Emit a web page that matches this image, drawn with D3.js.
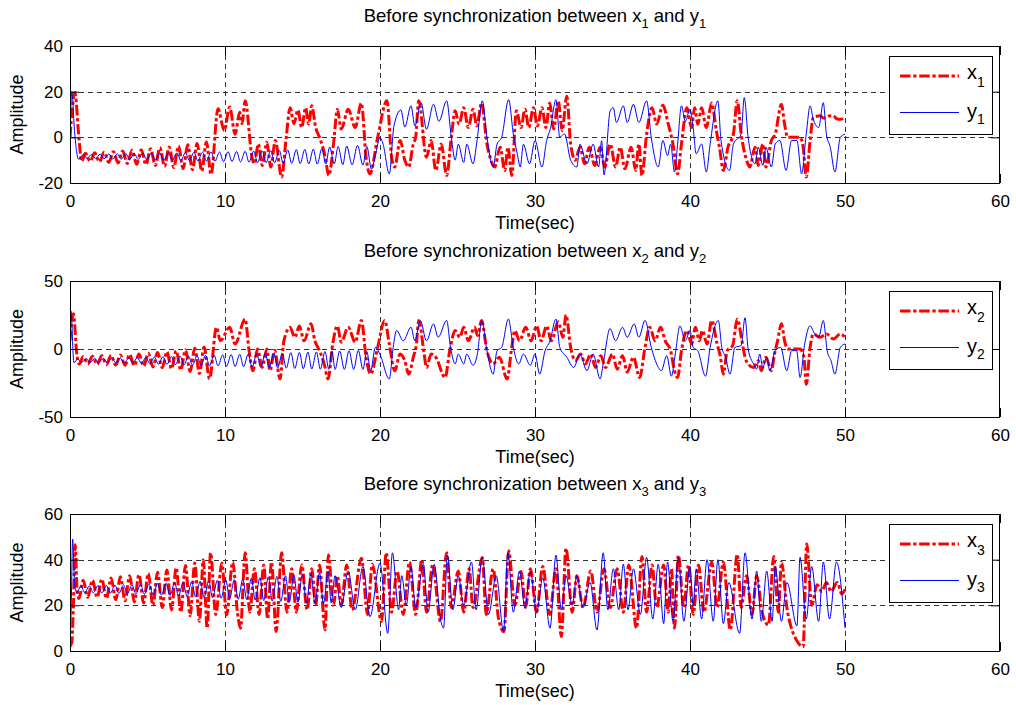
<!DOCTYPE html>
<html>
<head>
<meta charset="utf-8">
<script src="https://cdn.jsdelivr.net/npm/d3@7"></script>
<style>
  html, body { margin: 0; padding: 0; background: #fff; }
  svg { display: block; }
  text { font-family: "Liberation Sans", Arial, Helvetica, sans-serif; fill: #000; }
</style>
</head>
<body>
<svg id="chart" width="1016" height="705"></svg>
<script>
// ---- shared axis values ----
const timeTicks = [0, 10, 20, 30, 40, 50, 60];
const amp1Ticks = [-20, 0, 20, 40];
const amp2Ticks = [-50, 0, 50];
const amp3Ticks = [0, 20, 40, 60];
const titleSubs = ["1", "2", "3"];

// ---- series: [time (s), amplitude] ----
const x1 = [[0,0],[0.32,19.6],[0.55,2],[0.75,-10.5],[1.0,-7],[1.3,-10.5],[1.6,-6.8],[1.9,-10.8],[2.2,-6.5],[2.5,-11],[2.8,-6.3],[3.1,-11.2],[3.4,-6],[3.7,-11.5],[4.0,-5.7],[4.3,-11.8],[4.6,-5.4],[4.9,-12],[5.2,-5],[5.5,-12.3],[5.8,-4.6],[6.1,-12.7],[6.4,-4.2],[6.7,-13.2],[7.0,-3.8],[7.3,-13.7],[7.6,-3.3],[7.9,-14.2],[8.2,-2.7],[8.5,-14.8],[8.8,-2],[9.1,-16.2],[9.55,12.5],[9.95,3],[10.3,13.3],[10.65,1.4],[10.95,11],[11.1,6],[11.3,16],[11.75,-9],[11.9,-11.6],[12.15,-2.9],[12.4,-12.3],[12.7,-2.2],[12.95,-13],[13.25,-1.4],[13.65,-17.4],[13.95,0],[14.2,13],[14.45,6],[14.7,12],[14.95,4.3],[15.2,13],[15.4,5.8],[15.6,13.8],[15.85,4.3],[16.1,0],[16.45,-8],[16.7,-16.7],[17.0,-3],[17.25,12.3],[17.5,3.6],[17.95,12.3],[18.4,4.3],[18.8,15],[19.1,-8.7],[19.35,-16],[19.85,0],[20.45,16],[20.75,-8.7],[20.95,-13],[21.3,-1.4],[21.6,-10],[21.85,-13],[22.15,-2.9],[22.3,0],[22.5,16],[23.0,-8.7],[23.3,-1.4],[23.6,-14.5],[23.95,-2.9],[24.3,-16.7],[24.6,0],[24.85,11.6],[25.1,5.8],[25.4,13],[25.7,4.3],[26.0,12.3],[26.25,5],[26.55,15],[26.9,-2.9],[27.1,-8.7],[27.4,-13],[27.75,-4.3],[28.05,-14.5],[28.25,-4.3],[28.5,-16.7],[28.8,11.6],[29.1,4.3],[29.35,12.3],[29.6,4.3],[29.9,13],[30.15,5],[30.45,13],[30.7,4.3],[30.95,15],[31.2,3.6],[31.5,16],[31.75,2.9],[32.05,18],[32.3,-2.9],[32.6,-10],[32.9,-4.3],[33.2,-11.6],[33.5,-4.3],[33.85,-12.3],[34.2,-4.3],[34.5,-13],[34.85,-2.9],[35.2,-13],[35.5,-4.3],[35.8,-13.8],[36.2,-4.3],[36.5,-14.5],[36.7,-2.9],[36.9,-16.7],[37.2,1.4],[37.55,13],[37.85,5.8],[38.25,14],[38.6,5.8],[38.9,-2.9],[39.2,-16],[39.45,-2.9],[39.8,13],[40.1,4.3],[40.3,13],[40.5,5.8],[40.75,13],[41.05,4.3],[41.4,15],[41.7,2.9],[41.9,-4.3],[42.15,-14.5],[42.45,-4.3],[42.8,1.4],[43.05,16],[43.3,1.4],[43.65,-10],[43.85,-13],[44.2,-4.3],[44.4,-12.3],[44.7,-2.9],[44.9,-13],[45.25,-1.4],[45.5,1.4],[45.9,14.5],[46.1,5.8],[46.3,0],[47.1,0],[47.3,-4.3],[47.5,-17.4],[47.75,-1.4],[47.95,8.7],[48.4,9.4],[48.6,8.5],[48.8,8.7],[49.05,9.5],[49.25,9.4],[49.5,8],[49.7,7.9],[50,8.7]];

const y1 = [[0,3],[0.12,20],[0.3,2],[0.55,-9.5],[0.85,-7.6],[1.1,-9.2],[1.4,-7.5],[1.65,-9.3],[1.95,-7.4],[2.2,-9.4],[2.5,-7.3],[2.75,-9.5],[3.05,-7.2],[3.3,-9.6],[3.6,-7.2],[3.85,-9.6],[4.15,-7.1],[4.4,-9.7],[4.7,-7],[4.95,-9.8],[5.25,-7],[5.5,-9.9],[5.8,-6.9],[6.05,-10],[6.35,-6.8],[6.6,-10],[6.9,-6.8],[7.15,-10.1],[7.45,-6.7],[7.7,-10.2],[8.0,-6.6],[8.25,-10.3],[8.55,-6.5],[8.8,-10.4],[9.1,-6.4],[9.35,-10.5],[9.65,-6.4],[9.9,-10.6],[10.2,-6.3],[10.45,-10.6],[10.75,-6.2],[11.0,-10.8],[11.3,-6.1],[11.55,-10.9],[11.85,-6],[12.1,-11],[12.4,-5.9],[12.65,-11.1],[12.95,-5.8],[13.2,-11.2],[13.5,-5.7],[13.75,-11.3],[14.05,-5.5],[14.3,-11.4],[14.6,-5.4],[14.85,-11.5],[15.15,-5.3],[15.4,-11.6],[15.7,-5.2],[15.95,-11.7],[16.25,-5],[16.5,-11.7],[16.75,-4.3],[17.05,-11.6],[17.3,-4],[17.6,-12],[17.85,-3.8],[18.2,-12],[18.55,-3.5],[18.9,-12.2],[19.15,-4],[19.45,-14],[19.7,-8],[20.0,0],[20.2,-3],[20.6,-16],[20.9,5],[21.35,12],[21.6,4.5],[22.0,13.8],[22.25,5],[22.65,15.2],[23.0,3.5],[23.45,14.5],[23.8,7],[24.3,16],[24.6,0],[24.85,-10],[25.05,-3],[25.4,-11],[25.6,-3],[26.0,-11.6],[26.25,-2],[26.6,16],[26.9,0],[27.3,-13],[27.55,-3],[27.85,0],[28.3,16.5],[28.6,1.5],[28.85,-7],[29.05,-13],[29.25,-3],[29.65,-11.6],[30.0,-1.4],[30.45,-13],[30.75,-1.4],[31.0,4],[31.35,16.5],[31.6,0],[31.9,1.5],[32.3,-10],[32.7,-13],[32.9,-3],[33.35,-11.6],[33.75,-3],[34.1,-13],[34.3,-1.5],[34.45,-16.5],[34.85,11.6],[35.05,13],[35.25,6.5],[35.7,13.8],[35.95,6.5],[36.35,14.5],[36.7,6.5],[37.2,16],[37.5,0],[37.95,-13],[38.25,-1.4],[38.55,-8],[38.75,-3],[39.0,-15.2],[39.2,-3],[39.45,13.8],[39.7,7],[40.0,12.3],[40.2,4.3],[40.4,-7.2],[40.75,-2.9],[41.05,-15.2],[41.3,-2.9],[41.8,16],[42.0,-1.4],[42.55,-14.5],[42.8,-2.9],[43.3,1.4],[43.5,17.4],[43.75,0],[44.2,-11.6],[44.4,-4.3],[44.7,-12.3],[44.9,-4.3],[45.25,-13],[45.5,-2.9],[45.8,-1.4],[46.2,-14.5],[46.55,-1.4],[46.9,-1.4],[47.2,-16],[47.5,1.4],[47.75,13.8],[47.95,8],[48.3,4.3],[48.6,15.2],[48.8,1.4],[49.05,-4.3],[49.35,-15.2],[49.7,0],[50,1.4]];

const x2 = [[0,6],[0.22,26],[0.45,-5],[0.6,-11],[0.85,-5.5],[1.15,-11],[1.45,-5.3],[1.75,-11.3],[2.05,-5],[2.35,-11.5],[2.65,-4.7],[2.95,-11.8],[3.25,-4.4],[3.55,-12],[3.85,-4],[4.15,-12.3],[4.45,-3.6],[4.75,-12.7],[5.05,-3.2],[5.35,-13.2],[5.65,-2.6],[5.95,-13.8],[6.25,-2],[6.55,-14.5],[6.85,-1.3],[7.15,-15.5],[7.45,-0.5],[7.75,-16.5],[8.05,0.5],[8.35,-18],[8.65,1.5],[9.0,-22],[9.45,16],[9.7,6],[10.3,16],[10.65,3.7],[11.3,22],[11.55,-1],[11.8,-16],[12.1,0],[12.4,-13.6],[12.7,0],[12.9,-16],[13.2,-1],[13.55,-22],[13.8,6],[14.2,16],[14.5,8.6],[14.8,17],[15.1,6],[15.55,18.5],[15.8,6],[16.1,-1.2],[16.4,-11],[16.65,-22],[16.95,3.7],[17.25,17],[17.5,5],[17.95,16],[18.4,5],[18.8,21],[19.1,-6],[19.4,-18.5],[19.85,1.2],[20.3,21],[20.6,3.7],[20.95,-16],[21.3,-3.7],[21.6,-8.6],[21.85,-18.5],[22.15,-6],[22.35,3.7],[22.5,21],[22.85,-3.7],[23.0,-13.6],[23.3,-3.7],[23.6,-6],[24.2,-21],[24.5,-1.2],[24.85,13.6],[25.15,8.6],[25.4,16],[25.7,6],[26.1,16],[26.3,10],[26.55,21],[26.9,-1.2],[27.3,-11],[27.7,-6],[28.2,-22],[28.5,1.2],[28.7,13.6],[29.0,6],[29.4,16],[29.75,6],[30.1,17],[30.4,6],[30.75,17],[31.05,6],[31.5,20],[31.8,8.6],[32.0,25],[32.3,1.2],[32.6,-8.6],[32.95,-3.7],[33.25,-11],[33.6,-3.7],[33.9,-13.6],[34.25,-4.9],[34.55,-13.6],[35.0,-3.7],[35.3,-14.8],[35.65,-4.9],[35.95,-17],[36.35,-6],[36.75,-21],[37.1,1.2],[37.4,16],[37.75,6],[38.1,16],[38.4,6],[38.75,-1.2],[39.0,-16],[39.2,-21],[39.45,-1.2],[39.8,13.6],[40.1,3.7],[40.35,16],[40.6,6],[40.8,13.6],[41.1,3.7],[41.4,21],[41.75,3.7],[41.95,-5],[42.15,-18.5],[42.4,-1.2],[42.75,2.5],[43.05,22],[43.35,6],[43.55,-6],[43.75,-11],[44.1,-13.6],[44.4,-8.6],[44.6,-16],[44.9,-6],[45.25,-16],[45.45,-3.7],[45.65,6],[45.9,18.5],[46.1,6],[46.3,0],[47.1,0],[47.35,-6],[47.5,-26],[47.75,1.2],[47.95,11],[48.4,8.6],[48.8,11],[49.25,7.4],[49.7,11],[50,8.6]];

const y2 = [[0,5],[0.06,28],[0.25,-10],[0.5,-7.5],[0.75,-9.8],[1.05,-7.2],[1.3,-9.9],[1.6,-7],[1.85,-10],[2.15,-6.9],[2.4,-10.1],[2.7,-6.8],[2.95,-10.2],[3.25,-6.7],[3.5,-10.3],[3.8,-6.5],[4.05,-10.5],[4.35,-6.3],[4.6,-10.7],[4.9,-6.1],[5.15,-10.9],[5.45,-5.9],[5.7,-11.1],[6.0,-5.7],[6.25,-11.3],[6.55,-5.5],[6.8,-11.5],[7.1,-5.3],[7.35,-11.7],[7.65,-5.1],[7.9,-11.9],[8.2,-4.9],[8.45,-12.1],[8.75,-4.7],[9.0,-12.3],[9.3,-4.5],[9.55,-12.5],[9.85,-4.3],[10.1,-12.7],[10.4,-4.1],[10.65,-12.9],[10.95,-3.9],[11.2,-13.1],[11.5,-3.7],[11.75,-13.3],[12.05,-3.5],[12.3,-13.5],[12.6,-3.3],[12.85,-13.7],[13.15,-3.1],[13.4,-13.9],[13.7,-2.9],[13.95,-14.1],[14.25,-2.7],[14.5,-14.3],[14.8,-2.5],[15.05,-14.5],[15.35,-2.3],[15.6,-14.7],[15.9,-2.1],[16.15,-14.9],[16.45,-1.9],[16.7,-15],[16.9,-1.5],[17.1,-15],[17.4,-1.5],[17.7,-15],[18.0,-1.2],[18.3,-15],[18.6,-1],[18.9,-15],[19.15,-2],[19.4,-16],[19.7,1.2],[20.0,-4],[20.6,-22],[20.85,1.2],[21.07,13.6],[21.5,6],[22.0,16],[22.25,6],[22.6,21],[23.0,6],[23.45,18.5],[23.75,8.6],[24.3,21],[24.55,1.2],[24.85,-11],[25.05,-3.7],[25.4,-11],[25.6,-3.7],[26.0,-12],[26.3,-2.5],[26.56,21],[26.9,-1.2],[27.3,-18.5],[27.55,-1.2],[27.85,1.2],[28.28,22],[28.6,1.2],[28.95,-11],[29.25,-3.7],[29.7,-12],[30.0,-3.7],[30.3,-18.5],[30.65,-1.2],[30.97,6],[31.35,22],[31.6,1.2],[32.05,-6],[32.5,-13.6],[32.9,-3.7],[33.35,-16],[33.75,-3.7],[34.2,-22],[34.4,-11],[34.84,15],[35.2,6],[35.65,16],[35.95,8.6],[36.4,18.5],[36.7,8.6],[37.1,21],[37.5,1.2],[37.85,-11],[38.15,-16],[38.5,-4.9],[38.8,-20],[39.05,-3.7],[39.35,17],[39.7,6],[40.0,13.6],[40.2,1.2],[40.5,-1.2],[41.0,-20],[41.3,1.2],[41.83,21],[42.05,1.2],[42.3,-6],[42.58,-18.5],[42.9,1.2],[43.3,2.5],[43.55,23],[43.75,0],[44.1,-11],[44.3,-14.8],[44.5,-3.7],[44.7,-13.6],[44.95,-6],[45.15,-16],[45.5,-1.2],[45.85,1.2],[46.24,-16],[46.56,-1.2],[46.88,-1.2],[47.1,-21],[47.4,3.7],[47.74,17],[48.05,11],[48.3,8.6],[48.6,21],[48.85,-1.2],[49.1,-8.6],[49.35,-18.5],[49.7,1.2],[50,3.7]];

const x3 = [[0,2],[0.12,4],[0.22,20],[0.33,46.5],[0.45,28],[0.58,23],[0.85,31],[1.15,23.5],[1.45,31],[1.75,23.5],[2.05,31.5],[2.35,23],[2.65,32],[2.95,22.5],[3.25,32.5],[3.55,22],[3.85,33],[4.15,21.5],[4.45,33.5],[4.75,21],[5.05,34],[5.35,20],[5.65,34.5],[5.95,19],[6.25,35.5],[6.55,18],[6.85,36.5],[7.15,17],[7.45,37.5],[7.75,15.5],[8.05,38.5],[8.35,13],[8.6,40],[8.85,10],[9.07,43],[9.4,16],[9.8,38.5],[10.1,15.8],[10.5,39],[10.8,17],[11.0,10],[11.3,43],[11.6,17],[11.9,36],[12.2,16],[12.5,37.7],[12.75,14],[13.0,39],[13.3,8.5],[13.65,43],[14.0,17],[14.3,36],[14.6,17],[14.95,37.7],[15.3,18],[15.6,36],[15.85,20],[16.1,37.7],[16.45,9.2],[16.67,42],[17.0,20],[17.25,33],[17.5,20],[17.85,37.7],[18.2,18],[18.8,40.6],[19.2,16],[19.5,38],[20.1,12.9],[20.4,43],[20.75,17],[21.1,35],[21.5,16],[21.9,39],[22.3,16],[22.7,40],[23.0,17],[23.4,37.7],[23.9,12.9],[24.3,43],[24.6,19],[25.05,35],[25.4,17],[25.75,36],[26.0,19],[26.6,41],[26.85,16],[27.3,36],[27.65,14],[28.0,8.5],[28.3,43.9],[28.7,20],[29.1,34.8],[29.4,19],[29.7,36],[30.1,17],[30.5,37],[30.95,16],[31.35,36],[31.7,6.3],[32.0,45],[32.4,17],[32.7,33],[33.1,19],[33.6,35],[34.0,17],[34.45,36],[34.85,19],[35.3,36],[35.7,17],[36.05,37.7],[36.55,10],[36.9,41.4],[37.2,17],[37.55,37.7],[37.85,19],[38.3,37.7],[38.6,17],[38.8,36],[39.0,10],[39.25,42],[39.6,19],[39.9,37.7],[40.2,16],[40.55,37.7],[40.9,17],[41.4,39],[41.75,19],[42.15,39],[42.6,9.2],[43.05,42.4],[43.3,19],[43.65,33],[44.0,16],[44.3,33],[44.65,17],[45.06,11.4],[45.4,41.4],[45.7,17],[45.9,39],[46.25,19],[46.5,11],[46.85,5],[47.1,2.6],[47.3,1.9],[47.53,47],[47.85,20],[48.2,29],[48.5,26],[48.8,30],[49.1,26],[49.5,30],[49.8,25],[50,27]];

const y3 = [[0,0],[0.08,20],[0.17,49],[0.3,29],[0.45,25.5],[0.7,28.5],[0.95,25.5],[1.25,28.5],[1.5,25.5],[1.8,28.6],[2.05,25.4],[2.35,28.7],[2.6,25.3],[2.9,28.8],[3.15,25.2],[3.45,28.9],[3.7,25.1],[4.0,29],[4.25,25],[4.55,29.1],[4.8,24.9],[5.1,29.3],[5.35,24.7],[5.65,29.5],[5.9,24.5],[6.2,29.7],[6.45,24.3],[6.75,29.9],[7.0,24.1],[7.3,30.1],[7.55,23.9],[7.85,30.3],[8.1,23.7],[8.4,30.5],[8.65,23.5],[8.95,30.7],[9.2,23.3],[9.5,30.9],[9.75,23.1],[10.05,31.1],[10.3,22.9],[10.6,31.3],[10.85,22.7],[11.15,31.5],[11.4,22.5],[11.7,31.8],[11.95,22.3],[12.25,32.1],[12.5,22.1],[12.8,32.4],[13.05,21.9],[13.35,32.7],[13.6,21.7],[13.9,33],[14.15,21.5],[14.45,33.3],[14.7,21.3],[15.0,33.6],[15.25,21.1],[15.55,33.9],[15.8,20.9],[16.1,34.2],[16.35,20.7],[16.65,34.8],[16.85,21],[17.1,33],[17.5,19],[17.95,35],[18.4,18],[18.9,37],[19.35,15],[20.0,38.5],[20.5,7.7],[20.8,43],[21.2,18],[21.4,33],[21.7,20],[22.0,37],[22.3,19],[22.8,38],[23.1,17],[23.5,38],[23.9,14],[24.1,10],[24.35,42],[24.7,18],[25.05,33],[25.4,20],[25.9,39],[26.2,18],[26.6,41],[27.0,16],[27.5,33],[27.97,8.5],[28.25,43],[28.6,17],[29.0,35],[29.35,19],[29.7,35],[30.1,17],[30.5,32],[30.97,10],[31.35,42],[31.7,18],[32.0,33],[32.4,20],[32.7,33],[33.1,19],[33.55,30],[34.0,9.2],[34.4,43],[34.7,18],[35.05,36],[35.4,18],[35.7,38],[36.0,18],[36.35,36],[36.8,16],[37.2,41],[37.6,14],[37.95,38],[38.3,12],[38.55,39],[38.9,13],[39.25,41],[39.6,13],[40.0,37],[40.2,20],[40.4,36],[40.75,14],[41.1,40],[41.5,13],[41.8,40],[42.15,12],[42.5,30],[43.2,7.7],[43.55,43],[44.0,14],[44.3,35],[44.6,13],[44.95,35],[45.3,13],[45.5,37],[45.9,13],[46.25,30],[46.9,11],[47.1,41],[47.5,14],[47.85,37],[48.3,13],[48.6,39],[49.0,14],[49.45,39],[50,10]];

// ---- layout ----
const svg = d3.select("#chart");
svg.append("rect").attr("width", 1016).attr("height", 705).attr("fill", "#fff");

const panels = [
  { top: 46,  bottom: 183, domain: [-20, 40], ticks: amp1Ticks, red: x1, blue: y1, sub: titleSubs[0] },
  { top: 281, bottom: 417, domain: [-50, 50], ticks: amp2Ticks, red: x2, blue: y2, sub: titleSubs[1] },
  { top: 514, bottom: 651, domain: [0, 60],   ticks: amp3Ticks, red: x3, blue: y3, sub: titleSubs[2] }
];
const left = 70, right = 1000;
const tickLen = 9;
const gridColor = "#333";
const plainNumber = d => String(d);   // ASCII hyphen for negatives

panels.forEach((p, i) => {
  const x = d3.scaleLinear().domain([0, 60]).range([left, right]);
  const y = d3.scaleLinear().domain(p.domain).range([p.bottom, p.top]);
  const g = svg.append("g");

  // dashed grid at interior ticks
  const grid = g.append("g").attr("stroke", gridColor).attr("stroke-width", 1)
    .attr("stroke-dasharray", "5,4").attr("fill", "none");
  timeTicks.slice(1, -1).forEach(t => {
    grid.append("line").attr("x1", Math.round(x(t)) + 0.5).attr("x2", Math.round(x(t)) + 0.5)
      .attr("y1", p.top).attr("y2", p.bottom);
  });
  p.ticks.slice(1, -1).forEach(v => {
    grid.append("line").attr("y1", Math.round(y(v)) + 0.5).attr("y2", Math.round(y(v)) + 0.5)
      .attr("x1", left).attr("x2", right);
  });

  // clip lines to the plotting box
  const clipId = "clip" + i;
  svg.append("clipPath").attr("id", clipId).append("rect")
    .attr("x", left).attr("y", p.top).attr("width", right - left).attr("height", p.bottom - p.top);

  const line = d3.line().x(d => x(d[0])).y(d => y(d[1])).curve(d3.curveMonotoneX);
  const lines = g.append("g").attr("clip-path", `url(#${clipId})`);
  lines.append("path").datum(p.red).attr("d", line)
    .attr("fill", "none").attr("stroke", "#ff0000").attr("stroke-width", 3)
    .attr("stroke-dasharray", "10.5,2.7,3.3,2.7").attr("stroke-linejoin", "round");
  lines.append("path").datum(p.blue).attr("d", line)
    .attr("fill", "none").attr("stroke", "#0000ff").attr("stroke-width", 1)
    .attr("stroke-linejoin", "round");

  // axes with inward ticks on all four sides
  const fontTick = "17px";
  const xb = g.append("g").attr("transform", `translate(0,${p.bottom})`)
    .call(d3.axisBottom(x).tickValues(timeTicks).tickSize(-tickLen).tickPadding(12).tickFormat(plainNumber));
  const xt = g.append("g").attr("transform", `translate(0,${p.top})`)
    .call(d3.axisTop(x).tickValues(timeTicks).tickSize(-tickLen).tickFormat(""));
  const yl = g.append("g").attr("transform", `translate(${left},0)`)
    .call(d3.axisLeft(y).tickValues(p.ticks).tickSize(-tickLen).tickPadding(7).tickFormat(plainNumber));
  const yr = g.append("g").attr("transform", `translate(${right},0)`)
    .call(d3.axisRight(y).tickValues(p.ticks).tickSize(-tickLen).tickFormat(""));
  [xb, xt, yl, yr].forEach(a => {
    a.select(".domain").remove();
    a.selectAll(".tick line").attr("stroke", "#000");
    a.selectAll(".tick text").attr("font-size", fontTick)
      .attr("font-family", "Liberation Sans, Arial, sans-serif").attr("fill", "#000");
  });

  g.append("rect").attr("x", left + 0.5).attr("y", p.top + 0.5)
    .attr("width", right - left - 1).attr("height", p.bottom - p.top)
    .attr("fill", "none").attr("stroke", "#000").attr("stroke-width", 1);

  // title with subscripts
  const title = g.append("text").attr("x", (left + right) / 2).attr("y", p.top - 24)
    .attr("text-anchor", "middle").attr("font-size", "18.5px");
  title.append("tspan").text("Before synchronization between x");
  title.append("tspan").attr("font-size", "13px").attr("dy", 6).text(p.sub);
  title.append("tspan").attr("dy", -6).text(" and y");
  title.append("tspan").attr("font-size", "13px").attr("dy", 6).text(p.sub);

  // axis labels
  g.append("text").attr("x", (left + right) / 2).attr("y", p.bottom + 46)
    .attr("text-anchor", "middle").attr("font-size", "18px").text("Time(sec)");
  g.append("text").attr("transform", `translate(23,${(p.top + p.bottom) / 2}) rotate(-90)`)
    .attr("text-anchor", "middle").attr("font-size", "18px").text("Amplitude");

  // legend
  const lg = g.append("g").attr("transform", `translate(889,${p.top + 10})`);
  lg.append("rect").attr("x", 0.5).attr("y", 0.5).attr("width", 103).attr("height", 78)
    .attr("fill", "#fff").attr("stroke", "#000").attr("stroke-width", 1);
  lg.append("line").attr("x1", 11).attr("x2", 70).attr("y1", 20).attr("y2", 20)
    .attr("stroke", "#ff0000").attr("stroke-width", 3).attr("stroke-dasharray", "10.5,2.7,3.3,2.7");
  lg.append("line").attr("x1", 11).attr("x2", 70).attr("y1", 56.5).attr("y2", 56.5)
    .attr("stroke", "#0000ff").attr("stroke-width", 1);
  const lx = lg.append("text").attr("x", 78).attr("y", 23).attr("font-size", "20px");
  lx.append("tspan").text("x");
  lx.append("tspan").attr("font-size", "14px").attr("dy", 8).text(p.sub);
  const ly = lg.append("text").attr("x", 78).attr("y", 62).attr("font-size", "20px");
  ly.append("tspan").text("y");
  ly.append("tspan").attr("font-size", "14px").attr("dy", 6).text(p.sub);
});
</script>
</body>
</html>
